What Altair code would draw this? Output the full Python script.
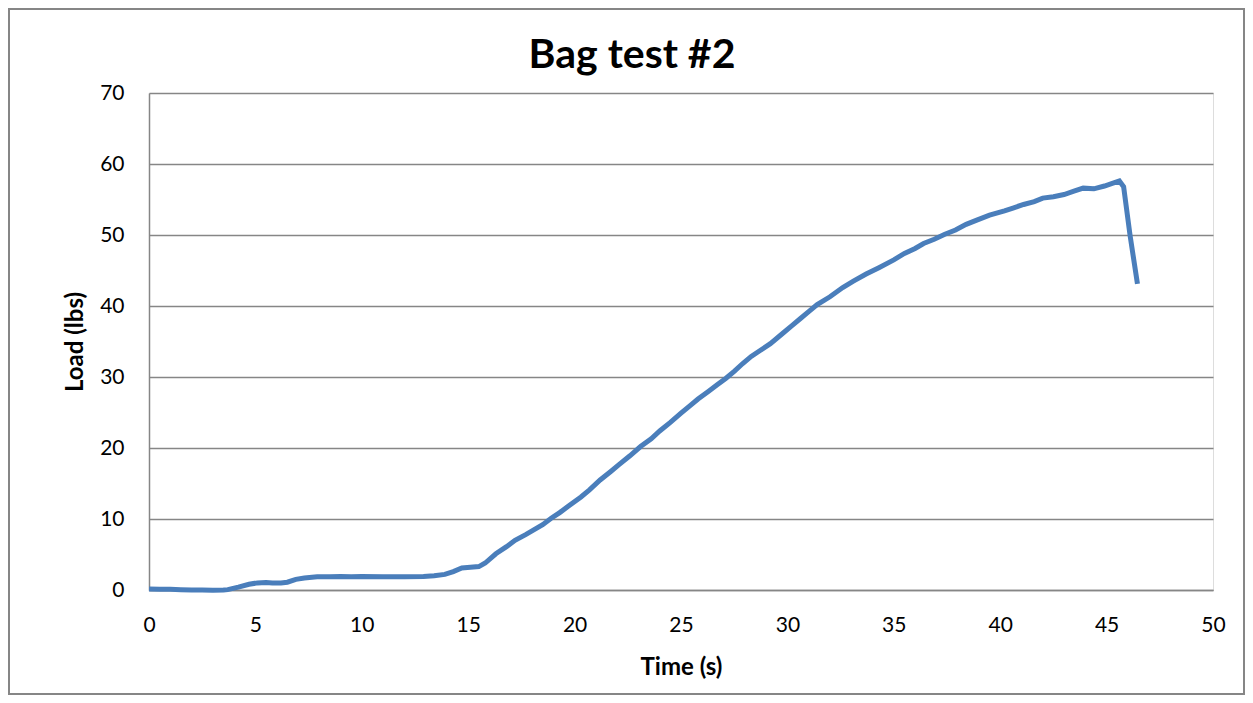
import altair as alt
import pandas as pd

time_s = [0, 0.5, 1, 1.5, 2, 2.5, 3, 3.5, 3.7, 4.2, 4.7, 5.1, 5.5, 5.8, 6.2, 6.5, 6.9, 7.3, 7.9,
          8.5, 9, 9.5, 10, 11, 12, 12.9, 13.4, 13.9, 14.3, 14.7, 15.1, 15.5, 15.8, 16.3, 16.8,
          17.2, 17.7, 18.1, 18.5, 18.9, 19.3, 19.7, 20.3, 20.7, 21.2, 21.7, 22.1, 22.6, 23.1,
          23.6, 24.0, 24.5, 25.0, 25.4, 25.8, 26.3, 26.7, 27.1, 27.5, 27.9, 28.3, 28.7, 29.2,
          29.8, 30.2, 30.6, 31.0, 31.4, 32.0, 32.6, 33.1, 33.7, 34.3, 35.0, 35.5, 36.0, 36.4,
          36.9, 37.4, 37.9, 38.4, 38.9, 39.5, 40.2, 40.6, 41.1, 41.6, 42.0, 42.5, 43.0, 43.5,
          43.9, 44.4, 44.9, 45.3, 45.6, 45.8, 46.1, 46.45]
load_lbs = [0.15, 0.1, 0.1, 0.05, 0.0, 0.0, -0.05, 0.0, 0.05, 0.4, 0.8, 1.0, 1.05, 1.0, 1.0, 1.1,
            1.5, 1.7, 1.85, 1.85, 1.9, 1.85, 1.9, 1.85, 1.85, 1.9, 2.0, 2.2, 2.6, 3.1, 3.2, 3.3,
            3.8, 5.1, 6.1, 7.0, 7.8, 8.5, 9.2, 10.1, 10.9, 11.8, 13.1, 14.1, 15.5, 16.7, 17.7,
            18.9, 20.2, 21.3, 22.4, 23.6, 24.9, 25.9, 26.9, 28.0, 28.9, 29.8, 30.8, 31.9, 32.9,
            33.7, 34.7, 36.2, 37.2, 38.2, 39.2, 40.2, 41.3, 42.6, 43.5, 44.5, 45.4, 46.5, 47.4,
            48.1, 48.8, 49.4, 50.1, 50.7, 51.5, 52.1, 52.8, 53.4, 53.8, 54.3, 54.7, 55.2, 55.4,
            55.7, 56.2, 56.6, 56.5, 56.9, 57.3, 57.6, 56.8, 50.0, 43.1]

x_ticks = [0, 5, 10, 15, 20, 25, 30, 35, 40, 45, 50]
y_ticks = [0, 10, 20, 30, 40, 50, 60, 70]
title_text = ["Bag test #2"]

df = pd.DataFrame({"t": time_s, "load": load_lbs})

FONT = "Lato"
GRID = "#868686"

line = alt.Chart(df).mark_line(color="#4A7EBB", strokeWidth=5, clip=False).encode(
    x=alt.X("t:Q", scale=alt.Scale(domain=[0, 50], nice=False),
            axis=alt.Axis(values=x_ticks, title="Time (s)", grid=False, ticks=False,
                          domainColor=GRID, domainWidth=1.5, labelFontSize=21,
                          labelPadding=24, labelFlush=False, titleFontSize=24,
                          titleFontWeight="bold", titlePadding=20, labelColor="black",
                          titleColor="black", labelFont=FONT, titleFont=FONT)),
    y=alt.Y("load:Q", scale=alt.Scale(domain=[0, 70], nice=False),
            axis=alt.Axis(values=y_ticks, title="Load (lbs)", grid=True, gridColor=GRID,
                          gridWidth=1.5, ticks=False, domainColor=GRID, domainWidth=1.5,
                          labelFontSize=21, labelPadding=25, labelFlush=False,
                          titleFontSize=24, titleFontWeight="bold", titlePadding=12,
                          labelColor="black", titleColor="black", labelFont=FONT,
                          titleFont=FONT)),
)

title = alt.Chart(pd.DataFrame({"title": title_text})).mark_text(
    font=FONT, fontSize=41, fontWeight="bold", color="black", align="center",
    baseline="alphabetic", clip=False
).encode(text="title:N", x=alt.value(483), y=alt.value(-25))

border = alt.Chart(pd.DataFrame({"a": [0]})).mark_rect(
    fill=None, stroke=GRID, strokeWidth=2, clip=False
).encode(
    x=alt.value(-140), x2=alt.value(1095), y=alt.value(-84), y2=alt.value(601)
)

chart = alt.layer(border, line, title).properties(
    width=1064,
    height=497,
    autosize=alt.AutoSizeParams(type="none"),
    padding={"left": 141, "top": 85, "right": 32, "bottom": 105},
).configure_view(stroke=None).configure(background="white")

chart.save("out.html", embed_options={"renderer": "svg", "actions": False})
